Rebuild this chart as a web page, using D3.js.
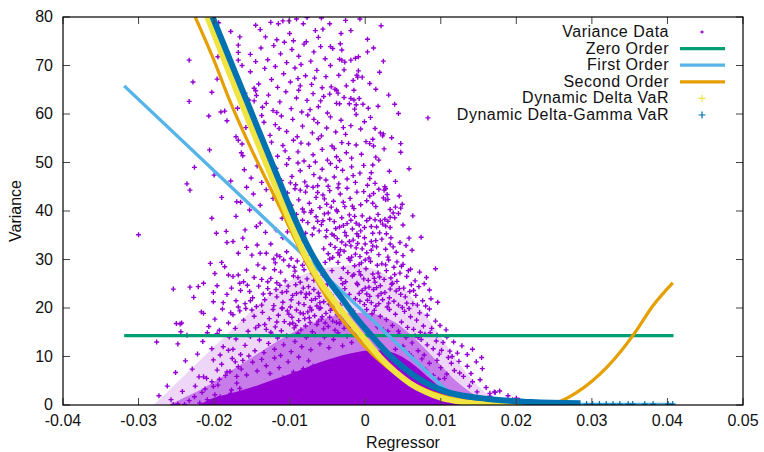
<!DOCTYPE html>
<html>
<head>
<meta charset="utf-8">
<script src="https://cdn.jsdelivr.net/npm/d3@7"></script>
<style>
  html, body { margin: 0; padding: 0; background: #fff; }
  svg { display: block; font-family: "Liberation Sans", Arial, Helvetica, sans-serif; }
</style>
</head>
<body>
<div id="chart"></div>
<script>
// Tick values for both axes
const xTicks = [-0.04, -0.03, -0.02, -0.01, 0, 0.01, 0.02, 0.03, 0.04, 0.05];
const yTicks = [0, 10, 20, 30, 40, 50, 60, 70, 80];

// Variance data (regressor, variance)
const varianceData = [
  // y 75-80
  [-0.0194,78.8],[-0.0178,77.0],[-0.0166,75.9],[-0.0145,78.3],[-0.0047,78.6],[-0.0007,79.6],[-0.0032,76.6],[-0.0019,77.2],[0.0003,75.4],
  [-0.0132,75.9],[-0.0115,78.6],[-0.0109,79.2],[-0.0101,79.2],[-0.0091,79.6],[-0.0082,78.6],[-0.0077,79.9],[-0.0066,77.2],[-0.0056,77.5],
  [-0.0100,76.6],[-0.0117,75.3],[-0.0095,75.1],[-0.0078,74.9],[-0.0125,78.9],[-0.0062,75.8],[-0.0139,77.4],[-0.0026,79.3],[0.0021,78.2],[-0.0058,79.8],
  // y 70-75
  [-0.0233,71.1],[-0.0195,71.8],[-0.0168,74.2],[-0.0168,72.7],[-0.0168,71.1],[-0.0163,70.0],[0.0003,72.8],[-0.0033,74.5],[-0.0046,73.9],
  [-0.0043,73.5],[-0.0031,73.2],[-0.0034,71.3],[-0.0031,71.1],[-0.0027,70.7],[-0.0019,71.1],[-0.0013,71.5],[-0.0009,71.8],[-0.0046,70.0],
  [-0.0138,73.6],[-0.0129,71.2],[-0.0121,74.1],[-0.0112,72.4],[-0.0104,70.6],[-0.0097,73.3],[-0.0088,71.9],[-0.0081,74.4],[-0.0072,70.9],
  [-0.0068,72.8],[-0.0059,73.9],[-0.0053,71.4],[-0.0145,70.8],[-0.0107,74.8],[-0.0085,70.2],[0.0011,73.6],[0.0024,70.9],[-0.0152,72.3],
  // y 65-70
  [-0.0228,66.6],[-0.0196,67.2],[-0.0028,69.1],[-0.0009,68.9],[-0.0016,66.9],[-0.0010,67.6],[-0.0004,67.6],[-0.0011,68.0],[-0.0045,65.6],
  [-0.0040,65.1],[0.0014,65.1],[-0.0152,68.7],[-0.0141,66.2],[-0.0133,69.4],[-0.0124,67.1],[-0.0116,65.5],[-0.0108,68.3],[-0.0099,66.6],
  [-0.0093,69.5],[-0.0086,65.8],[-0.0079,67.9],[-0.0071,66.1],[-0.0064,69.0],[-0.0057,65.4],[-0.0052,67.7],[-0.0119,69.8],[-0.0089,67.3],
  [-0.0067,67.4],[-0.0147,65.3],[0.0006,66.3],[0.0019,68.6],[-0.0035,68.0],[-0.0025,65.8],
  // y 60-65
  [-0.0233,62.6],[-0.0203,64.5],[-0.0191,60.4],[-0.0186,60.6],[-0.0169,61.2],[-0.0159,64.3],[-0.0154,62.9],[-0.0147,62.7],[-0.0145,64.8],
  [-0.0144,63.8],[-0.0038,64.9],[-0.0036,64.3],[-0.0047,64.1],[-0.0015,64.9],[0.0031,63.9],[-0.0028,63.4],[-0.0019,63.2],[-0.0015,62.9],
  [-0.0008,63.2],[-0.0038,62.2],[-0.0034,62.1],[-0.0021,62.1],[-0.0012,61.9],[-0.0003,62.0],[0.0017,61.6],[0.0039,62.0],[0.0004,61.2],
  [-0.0014,61.0],[-0.0136,61.4],[-0.0128,63.9],[-0.0122,60.7],[-0.0113,62.5],[-0.0105,64.6],[-0.0098,61.1],[-0.0091,63.3],[-0.0084,60.4],
  [-0.0077,62.8],[-0.0069,64.2],[-0.0062,61.5],[-0.0055,63.6],[-0.0050,60.2],[-0.0117,60.3],[-0.0088,64.9],[-0.0073,60.9],[-0.0131,62.2],[-0.0059,62.7],
  // y 55-60
  [-0.0207,59.6],[-0.0183,58.6],[-0.0171,55.3],[0.0044,60.1],[0.0083,59.2],[0.0007,59.3],[0.0013,57.0],[0.0020,56.1],[0.0024,55.9],
  [0.0023,55.5],[0.0035,55.1],[-0.0158,57.2],[-0.0149,59.1],[-0.0141,56.0],[-0.0134,58.3],[-0.0126,55.6],[-0.0119,57.8],[-0.0111,59.6],
  [-0.0104,56.4],[-0.0096,58.9],[-0.0090,55.3],[-0.0083,57.5],[-0.0076,59.8],[-0.0070,56.1],[-0.0063,58.2],[-0.0058,55.5],[-0.0051,57.1],
  [-0.0046,59.4],[-0.0039,56.3],[-0.0032,58.7],[-0.0026,55.8],[-0.0019,57.6],[-0.0012,59.9],[-0.0006,56.9],[-0.0001,58.4],[-0.0114,57.0],
  [-0.0068,58.9],[-0.0029,57.2],[-0.0137,59.7],
  // y 50-55
  [-0.0206,52.6],[-0.0164,52.0],[-0.0162,51.4],[-0.0163,53.8],[-0.0168,54.6],[0.0010,54.8],[0.0006,53.9],[0.0011,53.4],[0.0047,53.9],
  [0.0025,52.8],[0.0047,52.1],[0.0014,51.1],[0.0018,50.5],[-0.0124,54.2],[-0.0116,51.3],[-0.0109,53.5],[-0.0101,50.8],[-0.0095,54.6],
  [-0.0089,52.2],[-0.0081,50.3],[-0.0075,53.8],[-0.0069,51.6],[-0.0062,54.9],[-0.0057,52.7],[-0.0050,50.5],[-0.0044,53.4],[-0.0038,51.2],
  [-0.0031,54.1],[-0.0025,52.0],[-0.0018,50.9],[-0.0012,53.6],[-0.0005,51.7],[0.0001,54.3],[-0.0106,52.4],[-0.0085,54.0],[-0.0066,50.1],
  [-0.0041,52.9],[-0.0022,53.9],[-0.0129,51.9],[-0.0034,50.4],
  // y 45-50
  [-0.0226,49.0],[-0.0236,45.6],[-0.0200,47.4],[-0.0178,46.2],[0.0010,49.5],[0.0058,48.7],[0.0008,47.9],[0.0006,46.7],[0.0013,45.7],
  [0.0026,45.0],[-0.0118,48.8],[-0.0111,46.3],[-0.0104,49.6],[-0.0097,47.1],[-0.0092,45.4],[-0.0086,48.3],[-0.0080,46.0],[-0.0074,49.2],
  [-0.0068,47.5],[-0.0063,45.2],[-0.0057,48.6],[-0.0052,46.4],[-0.0046,49.8],[-0.0041,47.0],[-0.0035,45.6],[-0.0030,48.4],[-0.0024,46.6],
  [-0.0018,49.1],[-0.0013,45.9],[-0.0007,47.8],[-0.0002,49.4],[0.0003,45.3],[-0.0089,49.9],[-0.0060,46.8],[-0.0038,49.0],[-0.0016,47.3],
  [-0.0077,45.1],[-0.0049,45.1],[-0.0099,45.8],[0.0032,48.2],[0.0040,46.1],[-0.0160,48.5],[-0.0151,46.8],[-0.0143,49.3],[-0.0137,45.9],
  // y 40-45
  [-0.0232,44.3],[-0.0190,42.8],[-0.0170,41.9],[-0.0165,41.8],[-0.0153,40.2],[0.0027,44.6],[0.0025,44.3],[0.0011,43.6],[0.0006,43.1],
  [0.0029,43.4],[0.0024,42.7],[0.0027,42.3],[0.0030,42.4],[0.0045,43.1],[0.0010,41.6],[0.0014,40.9],[0.0049,41.4],[0.0033,40.3],
  [0.0040,40.8],[0.0047,40.6],[-0.0103,43.7],[-0.0098,41.2],[-0.0093,44.6],[-0.0088,42.3],[-0.0083,40.4],[-0.0079,43.9],[-0.0074,41.6],
  [-0.0069,44.9],[-0.0065,42.8],[-0.0060,40.7],[-0.0056,43.3],[-0.0051,41.4],[-0.0047,44.2],[-0.0042,42.0],[-0.0038,40.2],[-0.0033,43.5],
  [-0.0029,41.8],[-0.0024,44.7],[-0.0020,42.6],[-0.0015,40.5],[-0.0011,43.9],[-0.0006,41.3],[-0.0002,44.0],[0.0002,42.1],[-0.0071,40.1],
  [-0.0054,42.5],[-0.0036,44.8],[-0.0017,41.0],[-0.0086,44.3],[-0.0027,40.9],[-0.0063,43.8],[-0.0045,40.8],[0.0018,44.5],[-0.0148,43.5],
  [-0.0139,41.2],[-0.0131,44.4],[-0.0122,42.6],[-0.0157,44.9],
  // y 35-40
  [-0.0203,38.5],[-0.0159,36.1],[-0.0144,36.8],[-0.0139,37.5],[-0.0300,35.1],[-0.0197,35.4],[0.0037,39.6],[0.0044,39.5],[0.0063,39.0],
  [0.0039,38.6],[0.0033,38.7],[0.0006,38.5],[0.0017,39.3],[0.0013,38.2],[0.0020,38.0],[0.0026,38.3],[0.0030,37.9],[0.0023,37.3],
  [0.0050,37.1],[0.0008,36.8],[0.0015,36.7],[0.0027,36.9],[0.0033,36.6],[0.0010,35.4],[0.0019,35.5],[0.0028,35.3],[-0.0091,39.3],
  [-0.0087,36.2],[-0.0083,38.1],[-0.0079,35.4],[-0.0076,37.6],[-0.0072,39.7],[-0.0068,36.5],[-0.0065,38.8],[-0.0061,35.9],[-0.0058,37.2],
  [-0.0054,39.4],[-0.0051,36.0],[-0.0047,38.3],[-0.0044,35.2],[-0.0041,37.8],[-0.0037,39.9],[-0.0034,36.7],[-0.0031,38.6],[-0.0027,35.6],
  [-0.0024,37.4],[-0.0021,39.2],[-0.0017,36.3],[-0.0014,38.9],[-0.0011,35.3],[-0.0008,37.1],[-0.0004,39.0],[-0.0001,36.6],[0.0002,38.0],
  [-0.0070,35.1],[-0.0056,38.0],[-0.0039,36.4],[-0.0019,38.1],[-0.0006,35.9],[-0.0081,39.8],[-0.0049,39.6],[-0.0029,37.0],[-0.0063,37.9],
  [-0.0012,37.5],[-0.0118,36.1],[-0.0110,38.5],[-0.0103,35.7],[-0.0097,37.9],[-0.0106,39.6],[-0.0171,38.9],[-0.0184,35.8],[-0.0132,35.6],
  // y 30-35
  [-0.0183,33.5],[-0.0175,33.7],[-0.0168,31.3],[-0.0162,34.4],[-0.0150,30.9],[-0.0139,31.3],[-0.0131,31.3],[-0.0117,30.9],[-0.0113,30.6],
  [-0.0104,31.6],[0.0074,34.6],[0.0058,34.4],[0.0008,33.7],[0.0014,33.9],[0.0046,33.5],[0.0010,32.8],[0.0015,32.6],[0.0033,33.2],
  [0.0037,32.6],[0.0027,32.1],[-0.0052,34.7],[-0.0049,31.2],[-0.0046,33.1],[-0.0043,30.4],[-0.0040,32.5],[-0.0037,34.3],[-0.0034,30.9],
  [-0.0031,33.6],[-0.0028,31.7],[-0.0025,34.9],[-0.0022,30.2],[-0.0019,32.8],[-0.0016,34.0],[-0.0013,31.1],[-0.0010,33.3],[-0.0007,30.6],
  [-0.0004,32.2],[-0.0001,34.5],[0.0002,31.4],[0.0005,30.3],[0.0018,31.0],[0.0022,34.2],[0.0030,30.5],[0.0041,31.5],[0.0050,30.8],
  [0.0054,32.9],[0.0062,31.9],[-0.0047,30.1],[-0.0033,32.0],[-0.0018,30.5],[-0.0009,34.8],[-0.0041,34.9],[-0.0026,33.0],[-0.0012,32.4],
  [0.0000,33.2],[-0.0055,32.2],[0.0008,31.9],[0.0034,34.5],[-0.0036,31.4],[-0.0021,33.7],[-0.0082,33.9],[-0.0078,30.8],[-0.0125,33.2],
  [-0.0109,34.5],[-0.0143,33.0],[-0.0157,32.5],[-0.0121,30.1],[-0.0098,30.2],
  // y 25-30
  [-0.0190,29.4],[-0.0186,28.5],[-0.0214,25.1],[-0.0181,26.8],[-0.0175,26.5],[-0.0168,26.8],[-0.0166,25.1],[-0.0161,25.4],[-0.0157,27.8],
  [-0.0142,28.9],[-0.0134,28.2],[-0.0125,26.1],[-0.0119,29.3],[-0.0112,27.4],[-0.0106,25.6],[-0.0101,28.7],[-0.0095,26.6],[-0.0090,29.7],
  [-0.0086,25.3],[-0.0081,27.9],[-0.0077,26.0],[-0.0072,29.1],[-0.0068,25.7],[-0.0064,28.3],[-0.0129,25.4],[-0.0147,26.3],[-0.0108,29.9],
  [-0.0093,27.6],[-0.0079,29.5],[-0.0117,25.2],[-0.0199,27.1],[-0.0205,29.2],[-0.0036,29.4],[-0.0032,26.1],[-0.0029,28.2],[-0.0026,25.4],
  [-0.0023,27.3],[-0.0020,29.8],[-0.0017,26.6],[-0.0014,28.7],[-0.0011,25.1],[-0.0008,27.5],[-0.0005,29.3],[-0.0002,26.0],[0.0001,28.1],
  [0.0004,25.7],[0.0007,29.6],[0.0010,27.0],[0.0013,25.3],[0.0016,28.8],[0.0019,26.4],[0.0022,29.1],[0.0025,25.9],[0.0028,27.7],
  [0.0031,29.9],[0.0034,26.2],[0.0038,28.4],[0.0042,25.5],[0.0046,27.2],[0.0050,29.0],[0.0055,26.5],[0.0060,28.0],[0.0066,25.6],
  [0.0072,27.4],[0.0093,28.1],[0.0081,26.3],[-0.0030,25.0],[-0.0015,26.9],[0.0000,29.9],[0.0017,27.2],[0.0036,25.1],[0.0048,28.6],
  [-0.0089,26.3],[-0.0070,27.1],[-0.0056,26.8],[-0.0044,27.7],[-0.0006,26.8],[0.0012,26.1],[0.0027,28.9],[0.0039,26.9],[0.0057,27.7],
  [-0.0120,27.9],[-0.0137,25.9],[-0.0094,28.4],[-0.0053,29.4],[-0.0008,29.0],[0.0042,29.5],[-0.0083,28.8],[0.0078,25.0],
  // y 20-25
  [-0.0254,23.9],[-0.0232,24.3],[-0.0221,24.4],[-0.0227,22.2],[-0.0201,23.2],[-0.0201,21.3],[-0.0188,21.1],[-0.0153,23.4],[-0.0144,20.3],
  [-0.0137,20.6],[-0.0126,23.0],[-0.0117,22.3],[-0.0196,24.6],[-0.0183,22.8],[-0.0177,24.1],[-0.0171,21.5],[-0.0165,23.6],[-0.0159,20.9],
  [-0.0149,22.1],[-0.0141,24.5],[-0.0133,21.7],[-0.0129,24.0],[-0.0121,20.5],[-0.0113,24.7],[-0.0109,21.2],[-0.0104,23.4],[-0.0099,20.2],
  [-0.0096,22.6],[-0.0092,24.8],[-0.0088,21.0],[-0.0085,23.2],[-0.0081,20.7],[-0.0078,22.9],[-0.0075,24.4],[-0.0071,21.6],[-0.0068,23.8],
  [-0.0064,20.4],[-0.0061,22.4],[-0.0058,24.2],[-0.0055,21.3],[-0.0052,23.5],[-0.0048,20.8],[-0.0045,22.7],[-0.0042,24.6],[-0.0039,21.1],
  [-0.0036,23.3],[-0.0110,20.0],[-0.0091,23.0],[-0.0073,20.1],[-0.0066,21.9],[-0.0050,24.9],[-0.0043,20.3],[-0.0102,24.5],[-0.0118,23.8],
  [-0.0135,22.9],[-0.0156,24.7],[-0.0168,20.2],[-0.0082,24.1],[-0.0059,20.0],[-0.0010,24.8],[-0.0007,21.4],[-0.0004,23.6],[-0.0001,20.7],
  [0.0002,22.9],[0.0005,24.3],[0.0008,21.1],[0.0011,23.8],[0.0014,20.4],[0.0017,22.5],[0.0020,24.6],[0.0023,21.7],[0.0026,23.2],
  [0.0029,20.2],[0.0032,22.1],[0.0035,24.9],[0.0038,21.4],[0.0041,23.5],[0.0044,20.6],[0.0047,22.8],[0.0051,24.1],[0.0055,21.0],
  [0.0059,23.4],[0.0063,20.9],[0.0067,22.6],[0.0071,24.4],[0.0076,21.5],[0.0085,23.7],[0.0096,21.2],[0.0003,21.6],[0.0018,20.9],
  [0.0033,23.9],[0.0049,20.1],[0.0061,24.8],[0.0080,20.4],[-0.0008,23.0],[-0.0098,21.7],[-0.0079,22.2],[-0.0062,23.1],[-0.0049,22.0],
  [-0.0040,23.9],[-0.0033,20.6],[-0.0027,24.0],[-0.0021,22.8],[-0.0013,21.9],[0.0000,24.1],[0.0006,22.4],[0.0021,23.0],[0.0031,21.0],
  [0.0045,24.0],[0.0053,22.3],[0.0064,23.6],[0.0069,20.6],[0.0087,21.9],[-0.0152,21.5],[-0.0110,23.2],[-0.0074,23.0],[0.0015,24.2],[-0.0060,21.1],
  // y 15-20
  [-0.0250,16.8],[-0.0245,16.7],[-0.0243,16.9],[-0.0244,15.1],[-0.0217,19.2],[-0.0214,18.9],[-0.0199,17.7],[-0.0175,18.6],[-0.0166,19.4],
  [-0.0150,19.6],[0.0107,15.5],[-0.0207,16.2],[-0.0193,15.4],[-0.0189,19.8],[-0.0181,16.9],[-0.0172,15.8],[-0.0161,17.5],[-0.0155,15.2],
  [-0.0147,18.3],[-0.0141,16.4],[-0.0136,19.1],[-0.0131,15.6],[-0.0127,17.8],[-0.0122,19.7],[-0.0119,16.1],[-0.0115,18.5],[-0.0111,15.3],
  [-0.0107,17.2],[-0.0103,19.4],[-0.0100,16.7],[-0.0097,18.1],[-0.0094,15.9],[-0.0091,19.6],[-0.0088,17.4],[-0.0085,15.5],[-0.0082,18.8],
  [-0.0079,16.3],[-0.0076,19.2],[-0.0073,17.0],[-0.0070,15.1],[-0.0067,18.4],[-0.0064,16.6],[-0.0061,19.9],[-0.0058,17.7],[-0.0055,15.7],
  [-0.0052,18.9],[-0.0049,16.2],[-0.0046,19.5],[-0.0043,17.3],[-0.0040,15.4],[-0.0037,18.6],[-0.0034,16.8],[-0.0031,19.3],[-0.0028,15.8],
  [-0.0025,17.9],[-0.0022,16.0],[-0.0125,15.0],[-0.0178,19.0],[-0.0158,19.9],[-0.0110,19.9],[-0.0096,16.9],[-0.0074,18.0],[-0.0053,16.9],
  [-0.0038,17.0],[0.0012,19.5],[0.0016,16.1],[0.0020,18.3],[0.0024,15.5],[0.0028,17.6],[0.0032,19.7],[0.0036,16.4],[0.0040,18.7],
  [0.0044,15.2],[0.0048,17.1],[0.0052,19.3],[0.0056,16.0],[0.0060,18.2],[0.0064,15.6],[0.0068,17.5],[0.0072,19.0],[0.0077,16.3],
  [0.0082,18.5],[0.0088,15.8],[0.0093,17.3],[0.0099,16.4],[0.0030,15.2],[0.0058,19.9],[0.0073,15.0],[0.0085,19.8],
  [-0.0117,17.1],[-0.0101,18.7],[-0.0086,19.0],[-0.0071,19.6],[-0.0057,18.2],[-0.0044,19.9],[-0.0029,18.9],[-0.0016,19.4],[0.0002,19.7],
  [0.0009,18.8],[-0.0133,16.6],[-0.0145,15.9],[-0.0062,17.3],[-0.0032,17.6],[-0.0047,18.1],[-0.0019,17.1],[-0.0092,16.4],[-0.0080,17.8],
  // y 10-15
  [-0.0276,13.0],[-0.0248,12.6],[-0.0222,10.5],[-0.0192,10.3],[-0.0188,12.0],[-0.0181,11.3],[-0.0175,11.5],[0.0101,11.3],[0.0154,9.8],
  [-0.0236,14.4],[-0.0215,13.1],[-0.0203,11.6],[-0.0196,14.7],[-0.0171,13.6],[-0.0165,10.4],[-0.0159,12.3],[-0.0152,14.1],[-0.0146,11.2],
  [-0.0140,13.4],[-0.0134,10.8],[-0.0128,12.7],[-0.0124,14.6],[-0.0120,11.5],[-0.0116,13.8],[-0.0112,10.2],[-0.0108,12.4],[-0.0104,14.3],
  [-0.0098,11.0],[-0.0093,13.1],[-0.0089,14.8],[-0.0084,12.0],[-0.0078,13.9],[-0.0072,11.4],[-0.0066,14.5],[-0.0060,12.6],[-0.0054,14.0],
  [-0.0048,11.8],[-0.0042,13.5],[-0.0036,14.9],[-0.0030,12.2],[-0.0024,14.2],[-0.0018,12.9],[-0.0012,14.7],[-0.0006,13.3],[-0.0154,10.1],
  [-0.0180,14.0],[-0.0209,14.9],[0.0045,14.6],[0.0050,12.1],[0.0054,13.9],[0.0058,10.6],[0.0062,12.8],[0.0066,14.3],[0.0070,11.2],
  [0.0074,13.5],[0.0078,10.3],[0.0082,12.4],[0.0086,14.9],[0.0090,11.6],[0.0094,13.2],[0.0098,10.5],[0.0103,12.9],[0.0108,14.0],
  [0.0112,11.1],[0.0117,13.0],[0.0122,10.7],[0.0128,12.2],[0.0135,10.4],[0.0142,11.5],[0.0061,10.1],[0.0079,14.6],[0.0095,14.4],
  [0.0115,10.0],[0.0040,11.5],[0.0070,13.9],
  // y 5-10
  [-0.0251,6.7],[-0.0220,5.8],[-0.0214,5.8],[-0.0210,5.5],[-0.0201,9.3],[-0.0179,6.9],[-0.0168,7.9],[-0.0172,8.9],[-0.0238,9.1],
  [-0.0229,7.4],[-0.0196,7.2],[-0.0190,8.4],[-0.0185,6.1],[-0.0176,9.6],[-0.0162,9.2],[-0.0193,5.3],[-0.0183,6.8],[-0.0170,5.9],
  [-0.0164,7.4],[-0.0157,6.2],[-0.0149,8.8],[-0.0143,7.0],[-0.0137,9.4],[-0.0131,8.1],[-0.0126,6.5],[-0.0120,9.7],[-0.0114,7.7],
  [-0.0109,5.6],[-0.0102,8.9],[-0.0095,6.8],[-0.0088,9.9],[-0.0082,7.5],[-0.0075,9.1],[-0.0069,8.0],[0.0155,7.5],[0.0152,5.2],
  [0.0125,6.6],[0.0114,8.6],[0.0075,9.5],[0.0080,7.2],[0.0085,8.6],[0.0090,6.1],[0.0095,9.2],[0.0100,7.7],[0.0105,5.5],
  [0.0110,9.8],[0.0118,7.1],[0.0124,9.0],[0.0130,5.9],[0.0135,8.0],[0.0140,6.5],[0.0147,8.9],[0.0108,6.4],[0.0097,5.3],
  // y 0-5
  [-0.0262,3.9],[-0.0225,3.9],[-0.0273,1.9],[-0.0257,1.1],[-0.0226,1.7],[-0.0254,0.1],[-0.0248,0.2],[-0.0239,0.1],[-0.0201,3.8],
  [-0.0195,4.1],[-0.0203,4.8],[-0.0199,2.1],[-0.0192,1.7],[-0.0185,1.4],[-0.0177,3.1],[-0.0170,4.5],[-0.0166,3.4],[-0.0178,2.4],
  [-0.0242,2.8],[-0.0233,0.9],[-0.0216,2.6],[-0.0209,1.1],[-0.0212,3.3],[-0.0219,0.4],[0.0142,4.8],[0.0178,2.9],[0.0189,1.9],
  [0.0160,3.6],[0.0165,1.8],[0.0170,0.9],[0.0148,2.7],[0.0172,2.6],[0.0183,0.6],[0.0195,1.1],[0.0201,0.4],[0.0158,0.5],
  [0.0138,3.9],[0.0131,1.5],[0.0165,2.4],[0.0171,2.7],[0.0200,1.4],[0.0204,1.0]
];

// Top edges of the three density zones of the variance cloud
const denseCore = [[-0.022,0],[-0.020,1.5],[-0.018,2.3],[-0.016,3.2],[-0.014,4.2],[-0.012,5.3],[-0.010,6.4],[-0.008,7.6],
  [-0.006,8.8],[-0.004,9.8],[-0.002,10.6],[0,11.2],[0.002,11.3],[0.004,10.6],[0.006,8.8],[0.008,6.2],[0.010,3.6],[0.012,1.5],[0.014,0]];
const crowdedZone = [[-0.026,0],[-0.024,1.5],[-0.022,3],[-0.020,4.8],[-0.018,6.8],[-0.016,8.8],[-0.014,10.8],[-0.012,12.8],
  [-0.010,14.6],[-0.008,16.2],[-0.006,17.5],[-0.004,18.4],[-0.002,18.9],[0,19],[0.002,18.4],[0.004,17],[0.006,14.5],[0.008,11.5],
  [0.010,8.2],[0.012,5.0],[0.014,2.6],[0.016,1.0],[0.018,0]];
const looseZone = [[-0.028,0],[-0.026,3],[-0.024,6],[-0.022,9],[-0.020,12],[-0.018,15],[-0.016,18],[-0.014,21],[-0.012,23.5],
  [-0.010,25.5],[-0.008,27],[-0.006,28],[-0.004,28.5],[-0.002,28.8],[0,28.5],[0.002,27.5],[0.004,25.5],[0.006,22.5],[0.008,18.5],
  [0.010,14],[0.012,9.5],[0.014,5.5],[0.016,2.5],[0.018,0.8],[0.020,0]];

// Fitted curves
const zeroOrder = [[-0.0319,14.3],[0.0408,14.3]];
const firstOrder = [[-0.0319,65.8],[0.0108,3.0],[0.0122,1.0],[0.0135,0.3],[0.016,0.1],[0.0408,0.1]];
const secondOrder = [[-0.0225,80],[-0.020,71],[-0.018,63],[-0.015,52.5],[-0.012,43],[-0.010,36.5],[-0.008,30],[-0.006,24.5],
  [-0.004,19.5],[-0.002,15.5],[0,12],[0.002,9],[0.004,6.5],[0.006,4.6],[0.008,3.1],[0.010,2.0],[0.012,1.2],[0.015,0.5],
  [0.018,0.15],[0.021,0],[0.024,0.1],[0.026,0.9],[0.028,2.6],[0.030,4.9],[0.032,7.8],[0.034,11.4],[0.036,15.6],[0.038,20.3],[0.0407,25.2]];
const deltaVaR = [[-0.0209,80],[-0.018,68.5],[-0.015,57],[-0.012,45.5],[-0.010,38],[-0.008,31],[-0.006,25.5],[-0.004,21.2],
  [-0.002,17.2],[0,13.4],[0.002,9.8],[0.004,6.8],[0.006,4.4],[0.008,2.7],[0.010,1.5],[0.012,0.8],[0.015,0.3],[0.018,0.1],[0.021,0]];
const deltaGammaVaR = [[-0.0202,80],[-0.0172,68.5],[-0.0142,57],[-0.0112,45.5],[-0.0092,38],[-0.0071,31.2],[-0.005,26],[-0.003,21.8],
  [-0.001,17.6],[0.001,14],[0.003,10.6],[0.005,7.8],[0.007,5.5],[0.009,3.8],[0.011,2.6],[0.013,1.9],[0.016,1.3],[0.019,0.9],
  [0.022,0.6],[0.0285,0.35]];
// Loose delta-gamma crosses at the right end
const deltaGammaTail = [[0.0293,0.2],[0.0301,0.2],[0.0310,0.2],[0.0319,0.2],[0.0328,0.2],[0.0337,0.2],[0.0348,0.2],
  [0.0354,0.2],[0.0370,0.2],[0.0381,0.2],[0.0401,0.2],[0.0407,0.2]];

const legendLabels = ["Variance Data", "Zero Order", "First Order", "Second Order", "Dynamic Delta VaR", "Dynamic Delta-Gamma VaR"];

function drawChart() {
    const width = 764;
    const height = 452;
    const left = 63, right = 743, top = 17, bottom = 405;
    const font_size = 16;
    const colors = {
        data: "#9400d3", zero: "#009e73", first: "#56b4e9",
        second: "#e69f00", delta: "#f0e442", gamma: "#0072b2"
    };

    const x = d3.scaleLinear().domain([-0.04, 0.05]).range([left, right]);
    const y = d3.scaleLinear().domain([0, 80]).range([bottom, top]);

    const svg = d3.select("#chart").append("svg")
        .attr("width", width).attr("height", height)
        .style("font-size", font_size + "px");

    svg.append("clipPath").attr("id", "plot-clip")
        .append("rect").attr("x", left).attr("y", top)
        .attr("width", right - left).attr("height", bottom - top);

    const plot = svg.append("g").attr("clip-path", "url(#plot-clip)");

    // Cloud density zones, from loose to solid
    const area = d3.area().x(d => x(d[0])).y0(y(0)).y1(d => y(d[1])).curve(d3.curveMonotoneX);
    [[looseZone, 0.16], [crowdedZone, 0.42], [denseCore, 1]].forEach(([zone, alpha]) => {
        plot.append("path").datum(zone).attr("d", area)
            .attr("fill", colors.data).attr("fill-opacity", alpha);
    });

    // Variance data crosses
    const cross = s => `M${-s},0H${s}M0,${-s}V${s}`;
    plot.append("g")
        .selectAll("path")
        .data(varianceData)
        .join("path")
        .attr("transform", d => `translate(${x(d[0])},${y(d[1])})`)
        .attr("d", cross(2.5))
        .attr("stroke", colors.data)
        .attr("stroke-width", 1.4)
        .attr("fill", "none");

    const line = d3.line().x(d => x(d[0])).y(d => y(d[1]));
    const smooth = d3.line().x(d => x(d[0])).y(d => y(d[1])).curve(d3.curveMonotoneX);

    plot.append("path").datum(zeroOrder).attr("d", line)
        .attr("fill", "none").attr("stroke", colors.zero).attr("stroke-width", 3.2);
    plot.append("path").datum(firstOrder).attr("d", line)
        .attr("fill", "none").attr("stroke", colors.first).attr("stroke-width", 3.4);
    plot.append("path").datum(secondOrder).attr("d", smooth)
        .attr("fill", "none").attr("stroke", colors.second).attr("stroke-width", 3.2);
    plot.append("path").datum(deltaVaR).attr("d", smooth)
        .attr("fill", "none").attr("stroke", colors.delta).attr("stroke-width", 6);
    plot.append("path").datum(deltaGammaVaR).attr("d", smooth)
        .attr("fill", "none").attr("stroke", colors.gamma).attr("stroke-width", 6);

    plot.append("g")
        .selectAll("path")
        .data(deltaGammaTail)
        .join("path")
        .attr("transform", d => `translate(${x(d[0])},${y(d[1])})`)
        .attr("d", cross(3))
        .attr("stroke", colors.gamma)
        .attr("stroke-width", 1.2)
        .attr("fill", "none");

    // Ticks on all four sides, pointing inward
    const ticks = svg.append("g").attr("stroke", "#444").attr("stroke-width", 1);
    xTicks.forEach(t => {
        ticks.append("line").attr("x1", x(t)).attr("x2", x(t)).attr("y1", bottom).attr("y2", bottom - 7);
        ticks.append("line").attr("x1", x(t)).attr("x2", x(t)).attr("y1", top).attr("y2", top + 7);
    });
    yTicks.forEach(t => {
        ticks.append("line").attr("x1", left).attr("x2", left + 7).attr("y1", y(t)).attr("y2", y(t));
        ticks.append("line").attr("x1", right).attr("x2", right - 7).attr("y1", y(t)).attr("y2", y(t));
    });

    // Border
    svg.append("rect").attr("x", left).attr("y", top)
        .attr("width", right - left).attr("height", bottom - top)
        .attr("fill", "none").attr("stroke", "#000").attr("stroke-width", 1.2);

    // Tick labels
    const fmt = d => String(+d.toFixed(2));
    svg.append("g").selectAll("text").data(xTicks).join("text")
        .attr("x", d => x(d)).attr("y", bottom + 21)
        .attr("text-anchor", "middle").attr("fill", "#111")
        .text(fmt);
    svg.append("g").selectAll("text").data(yTicks).join("text")
        .attr("x", left - 10).attr("y", d => y(d) + 5)
        .attr("text-anchor", "end").attr("fill", "#111")
        .text(d => d);

    // Axis titles
    svg.append("text").attr("x", (left + right) / 2).attr("y", 448)
        .attr("text-anchor", "middle").attr("fill", "#111").text("Regressor");
    svg.append("text").attr("transform", `translate(21,${(top + bottom) / 2}) rotate(-90)`)
        .attr("text-anchor", "middle").attr("fill", "#111").text("Variance");

    // Legend
    const legend = svg.append("g").style("letter-spacing", "0.5px");
    const keyColors = [colors.data, colors.zero, colors.first, colors.second, colors.delta, colors.gamma];
    legendLabels.forEach((label, i) => {
        const base = 37 + i * 16.6;
        legend.append("text").attr("x", 669).attr("y", base)
            .attr("text-anchor", "end").attr("fill", "#111").text(label);
        const cy = base - 5;
        if (i === 0) {
            legend.append("path").attr("transform", `translate(702,${cy})`).attr("d", cross(1.6))
                .attr("stroke", keyColors[i]).attr("stroke-width", 1.3);
        } else if (i <= 3) {
            legend.append("line").attr("x1", 680).attr("x2", 725).attr("y1", cy).attr("y2", cy)
                .attr("stroke", keyColors[i]).attr("stroke-width", 3.2);
        } else {
            legend.append("path").attr("transform", `translate(702,${cy})`).attr("d", cross(3.5))
                .attr("stroke", keyColors[i]).attr("stroke-width", 1.2);
        }
    });
}

drawChart();
</script>
</body>
</html>
